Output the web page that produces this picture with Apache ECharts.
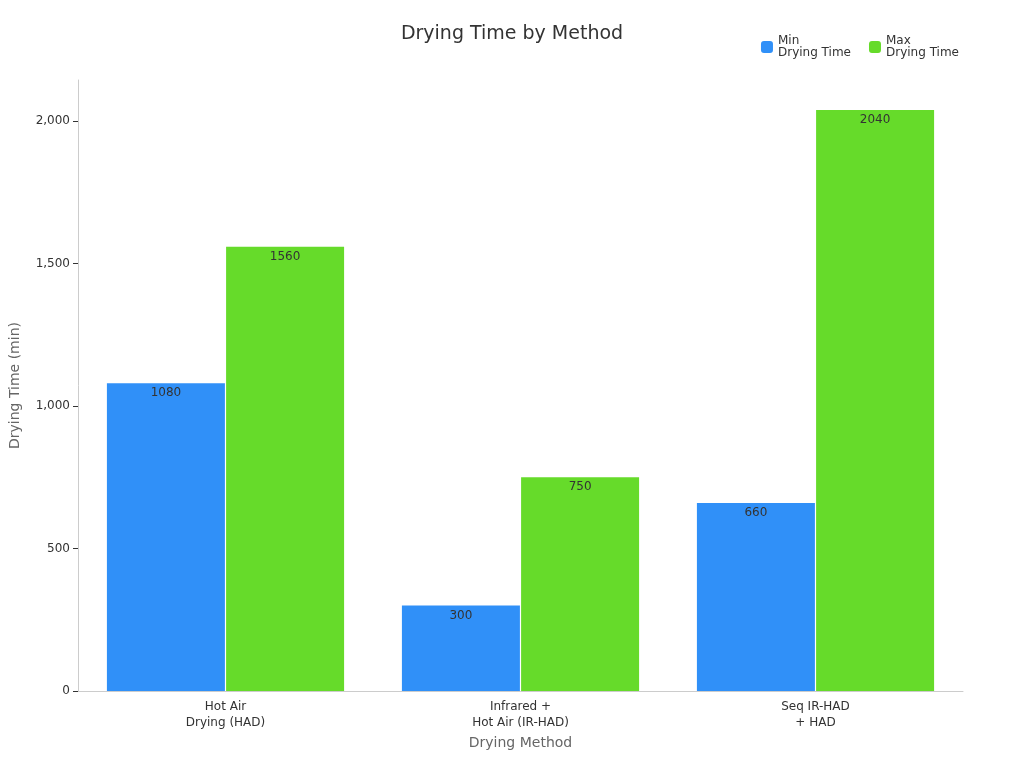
<!DOCTYPE html>
<html lang="en">
<head>
    <meta charset="UTF-8">
    <title>Drying Time by Method</title>
    <script src="https://cdn.jsdelivr.net/npm/echarts@6/dist/echarts.min.js"></script>
    <style>
        html,body{margin:0;padding:0;}
        #box{width:1024px;height:768px;}
    </style>
</head>
<body>
<div id="box"></div>
<script>
    var categories = ['Hot Air\nDrying (HAD)', 'Infrared +\nHot Air (IR-HAD)', 'Seq IR-HAD\n+ HAD'];
    var minTime = [1080, 300, 660];
    var maxTime = [1560, 750, 2040];

    var chart = echarts.init(document.getElementById('box'));
    var label = {show: true, position: 'insideTop', color: '#333', fontSize: 12, distance: 4};
    chart.setOption({
        textStyle: {fontFamily: 'DejaVu Sans'},
        title: {
            text: 'Drying Time by Method', left: 'center', top: 20,
            textStyle: {fontSize: 19, fontWeight: 'normal', color: '#333'}
        },
        legend: {
            top: 30, right: 60, itemWidth: 12, itemHeight: 12, itemGap: 18,
            textStyle: {fontSize: 12, color: '#333'},
            data: ['Min\nDrying Time', 'Max\nDrying Time']
        },
        grid: {left: 76, right: 61, top: 80, bottom: 77},
        xAxis: {
            type: 'category', data: categories,
            name: 'Drying Method', nameLocation: 'middle', nameGap: 45,
            nameTextStyle: {fontSize: 14, color: '#666'},
            axisLine: {lineStyle: {color: '#ccc'}},
            axisTick: {show: false},
            axisLabel: {color: '#333', fontSize: 12, lineHeight: 16}
        },
        yAxis: {
            type: 'value', min: 0, max: 2145, interval: 500,
            name: 'Drying Time (min)', nameLocation: 'middle', nameGap: 56,
            nameTextStyle: {fontSize: 14, color: '#666'},
            axisLine: {show: true, lineStyle: {color: '#ccc'}},
            axisTick: {show: true, lineStyle: {color: '#333'}},
            axisLabel: {color: '#333', fontSize: 12, showMaxLabel: false},
            splitLine: {show: false}
        },
        series: [
            {name: 'Min\nDrying Time', type: 'bar', data: minTime, barWidth: 118, barGap: '1%',
             itemStyle: {color: '#3090f8'}, label: label},
            {name: 'Max\nDrying Time', type: 'bar', data: maxTime, barWidth: 118,
             itemStyle: {color: '#66db2a'}, label: label}
        ]
    });
</script>
</body>
</html>
